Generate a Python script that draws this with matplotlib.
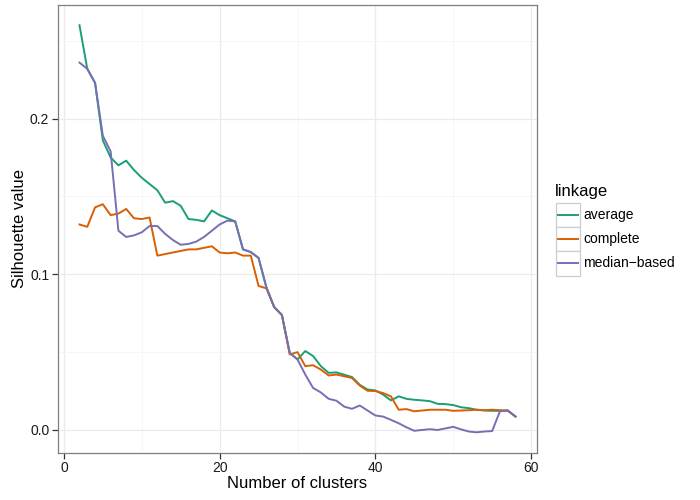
import numpy as np
import matplotlib
matplotlib.use('Agg')
import matplotlib.pyplot as plt
from matplotlib.patches import Rectangle
from matplotlib.lines import Line2D
from matplotlib.ticker import MultipleLocator

plt.rcParams['font.family'] = ['Liberation Sans', 'DejaVu Sans']

n_clusters = np.arange(2, 59)

# silhouette values, one per cluster count (2..58)
average = [0.260, 0.232, 0.223, 0.186, 0.175, 0.170, 0.173, 0.167, 0.162, 0.158,
           0.154, 0.146, 0.147, 0.144, 0.1355, 0.135, 0.134, 0.141, 0.138, 0.136,
           0.134, 0.116, 0.1143, 0.1105, 0.0917, 0.079, 0.0738, 0.0496, 0.0453, 0.0507,
           0.0475, 0.041, 0.0367, 0.037, 0.0355, 0.034, 0.029, 0.026, 0.0254, 0.0227,
           0.019, 0.0216, 0.020, 0.0194, 0.019, 0.0185, 0.0168, 0.0166, 0.016, 0.0146,
           0.014, 0.013, 0.0125, 0.0123, 0.0123, 0.0125, 0.0086]
complete = [0.132, 0.1305, 0.143, 0.145, 0.138, 0.139, 0.142, 0.136, 0.1355, 0.1365,
            0.112, 0.113, 0.114, 0.115, 0.116, 0.116, 0.117, 0.118, 0.114, 0.1135,
            0.114, 0.112, 0.112, 0.0925, 0.091, 0.079, 0.0738, 0.0485, 0.050, 0.041,
            0.0416, 0.0388, 0.035, 0.0356, 0.0345, 0.0334, 0.0285, 0.0252, 0.025, 0.0237,
            0.0216, 0.013, 0.0134, 0.012, 0.0125, 0.013, 0.013, 0.013, 0.0123, 0.0125,
            0.0127, 0.013, 0.0127, 0.013, 0.0127, 0.0125, 0.0086]
median_based = [0.236, 0.232, 0.223, 0.189, 0.179, 0.128, 0.124, 0.125, 0.127, 0.131,
                0.131, 0.126, 0.122, 0.119, 0.1195, 0.121, 0.124, 0.128, 0.132, 0.1345,
                0.134, 0.116, 0.1143, 0.1105, 0.0917, 0.079, 0.0738, 0.0496, 0.0453, 0.0356,
                0.027, 0.0241, 0.020, 0.0188, 0.015, 0.0136, 0.0157, 0.0125, 0.0093, 0.0086,
                0.0065, 0.0043, 0.0017, -0.0005, 0.0, 0.0005, 0.0, 0.001, 0.002, 0.0004,
                -0.001, -0.0015, -0.001, -0.0007, 0.012, 0.0125, 0.0086]

labels = ['average', 'complete', 'median\u2212based']
colors = ['#1B9E77', '#D95F02', '#7570B3']

fig = plt.figure(figsize=(7, 5), dpi=100)
ax = fig.add_axes([0.0824, 0.0946, 0.6852, 0.8954])

for vals, c in zip([average, complete, median_based], colors):
    ax.plot(n_clusters, vals, color=c, lw=1.4, solid_joinstyle='round')

ax.set_xlim(-0.8, 60.8)
ax.set_ylim(-0.0146, 0.273)
ax.xaxis.set_major_locator(MultipleLocator(20))
ax.xaxis.set_minor_locator(MultipleLocator(10))
ax.yaxis.set_major_locator(MultipleLocator(0.1))
ax.yaxis.set_minor_locator(MultipleLocator(0.05))
ax.yaxis.set_major_formatter(plt.FuncFormatter(lambda v, p: f'{v:.1f}'))
ax.grid(which='major', color='#EBEBEB', lw=0.9)
ax.grid(which='minor', color='#F5F5F5', lw=0.6)
ax.set_axisbelow(True)
for s in ax.spines.values():
    s.set_color('#7F7F7F')
    s.set_linewidth(0.9)
ax.tick_params(which='major', length=4, width=0.9, color='#333333',
               labelsize=10, labelcolor='#1a1a1a', pad=2)
ax.tick_params(which='minor', length=0)
ax.set_xlabel('Number of clusters', fontsize=12, labelpad=1)
ax.set_ylabel('Silhouette value', fontsize=12, labelpad=2)

# legend drawn in figure pixel space
W, H = 700, 500
fig.text(555 / W, 1 - 191.5 / H, 'linkage', fontsize=12, va='center', ha='left')
key = 24.3
top = 202.7
for i, (lab, c) in enumerate(zip(labels, colors)):
    y0 = top + i * key
    fig.add_artist(Rectangle((555.5 / W, 1 - (y0 + key) / H), key / W, key / H,
                             transform=fig.transFigure, facecolor='white',
                             edgecolor='#CCCCCC', lw=0.9))
    yc = 1 - (y0 + key / 2) / H
    fig.add_artist(Line2D([557.5 / W, 578 / W], [yc, yc], transform=fig.transFigure,
                          color=c, lw=1.4))
    fig.text(583 / W, yc, lab, fontsize=10, va='center', ha='left')

fig.savefig('out.png', dpi=100)
